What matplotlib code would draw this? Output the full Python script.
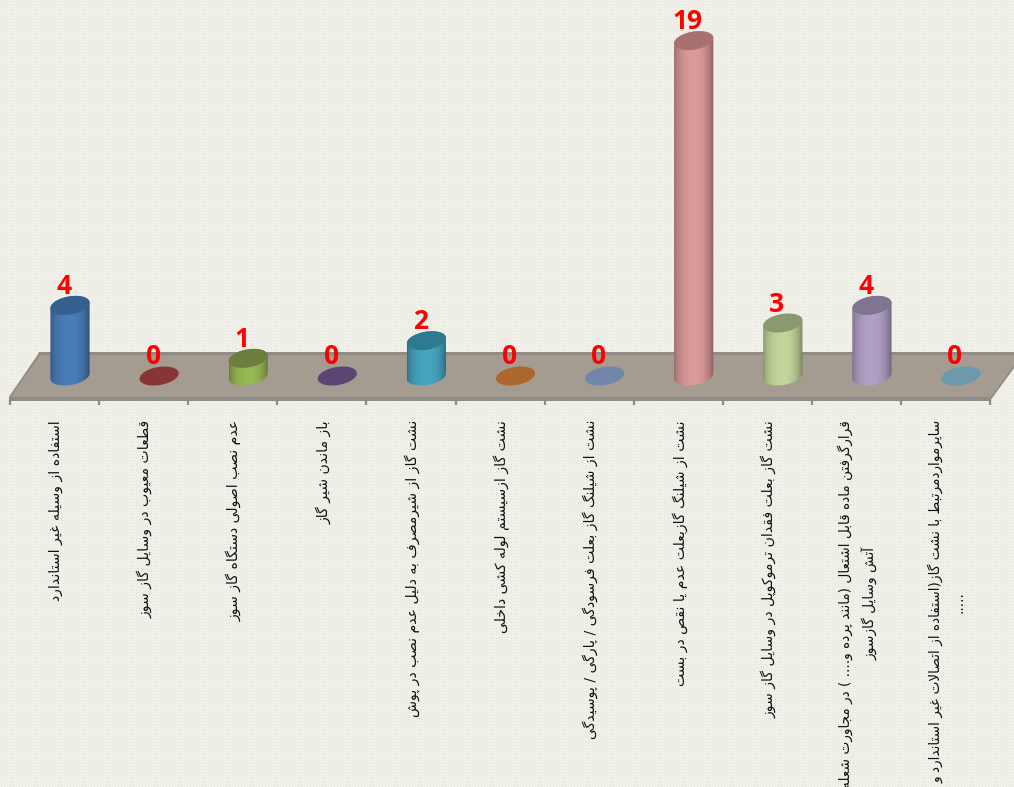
import numpy as np
import matplotlib
matplotlib.use("Agg")
import matplotlib.pyplot as plt
from matplotlib.patches import Polygon

# ---------- data ----------
categories = [
    "استفاده از وسیله غیر استاندارد",
    "قطعات معیوب در وسایل گاز سوز",
    "عدم نصب اصولی دستگاه گاز سوز",
    "باز ماندن شیر گاز",
    "نشت گاز از شیرمصرف به دلیل عدم نصب در پوش",
    "نشت گاز ازسیستم لوله کشی داخلی",
    "نشت از شیلنگ گاز بعلت فرسودگی / پارگی / پوسیدگی",
    "نشت از شیلنگ گازبعلت عدم یا نقص در بست",
    "نشت گاز بعلت فقدان ترموکوپل در وسایل گاز سوز",
    "قرارگرفتن ماده قابل اشتعال (مانند پرده و.... ) در مجاورت شعله\nآتش وسایل گازسوز",
    "سایرمواردمرتبط با نشت گاز(استفاده از اتصالات غیر استاندارد و\n.....",
]
values = [4, 0, 1, 0, 2, 0, 0, 19, 3, 4, 0]
body_colors = ["#4A7EBB", "#8B3A3A", "#98B954", "#5C4776", "#46A5C0", "#B9682C",
               "#7F93B8", "#DC9A9A", "#C3D69B", "#B2A1C7", "#6F9CAD"]
top_colors = ["#355F8D", "#883634", "#6A7F3C", "#5A4573", "#2F7A90", "#AC672F",
              "#7186A8", "#A97070", "#8A9A70", "#807591", "#6C9AAB"]

# ---------- Persian shaping (matplotlib has no bidi / joining support) ----------
def _run(start):
    return (start, start + 1, start + 2, start + 3)

FORMS = {
    "ب": _run(0xFE8F), "پ": _run(0xFB56), "ت": _run(0xFE95), "ث": _run(0xFE99),
    "ج": _run(0xFE9D), "چ": _run(0xFB7A), "ح": _run(0xFEA1), "خ": _run(0xFEA5),
    "س": _run(0xFEB1), "ش": _run(0xFEB5), "ص": _run(0xFEB9), "ض": _run(0xFEBD),
    "ط": _run(0xFEC1), "ظ": _run(0xFEC5), "ع": _run(0xFEC9), "غ": _run(0xFECD),
    "ف": _run(0xFED1), "ق": _run(0xFED5), "ک": _run(0xFB8E), "گ": _run(0xFB92),
    "ل": _run(0xFEDD), "م": _run(0xFEE1), "ن": _run(0xFEE5), "ه": _run(0xFEE9),
    "ی": _run(0xFBFC),
    "آ": (0xFE81, 0xFE82), "ا": (0xFE8D, 0xFE8E), "د": (0xFEA9, 0xFEAA),
    "ذ": (0xFEAB, 0xFEAC), "ر": (0xFEAD, 0xFEAE), "ز": (0xFEAF, 0xFEB0),
    "ژ": (0xFB8A, 0xFB8B), "و": (0xFEED, 0xFEEE),
}
MIRROR = {"(": ")", ")": "("}

def shape_line(text):
    out = []
    i = 0
    prev_joins = False
    while i < len(text):
        ch = text[i]
        if ch not in FORMS:
            out.append(MIRROR.get(ch, ch))
            prev_joins = False
            i += 1
            continue
        if ch == "ل" and i + 1 < len(text) and text[i + 1] == "ا":
            out.append(chr(0xFEFC if prev_joins else 0xFEFB))
            prev_joins = False
            i += 2
            continue
        f = FORMS[ch]
        dual = len(f) == 4
        nxt = text[i + 1] if i + 1 < len(text) else ""
        next_joins = dual and nxt in FORMS
        if prev_joins and next_joins:
            out.append(chr(f[3]))
        elif prev_joins:
            out.append(chr(f[1]))
        elif next_joins:
            out.append(chr(f[2]))
        else:
            out.append(chr(f[0]))
        prev_joins = dual
        i += 1
    return "".join(reversed(out))

def shape(text):
    return "\n".join(shape_line(t) for t in text.split("\n"))

# ---------- figure ----------
W, H = 1014, 787
fig = plt.figure(figsize=(W / 100, H / 100), dpi=100)

# page layer in pixel coordinates
bg = fig.add_axes([0, 0, 1, 1])
bg.set_xlim(0, W)
bg.set_ylim(H, 0)
bg.axis("off")

tile = np.array([
    [0, 1, 0, 0, 1, 0],
    [1, 0, 1, 1, 0, 1],
    [0, 1, 0, 0, 1, 0],
    [0, 1, 0, 0, 1, 0],
    [1, 0, 1, 1, 0, 1],
    [0, 1, 0, 0, 1, 0],
], dtype=float)
tex = np.tile(tile, (H // 6 + 1, W // 6 + 1))[:H, :W]
c0, c1 = np.array([0xF3, 0xF2, 0xEC]) / 255, np.array([0xEA, 0xE9, 0xDF]) / 255
bg.imshow(c0 + tex[..., None] * (c1 - c0), extent=(0, W, H, 0), aspect="auto",
          interpolation="nearest", zorder=0)

# floor
bg.add_patch(Polygon([(39, 353), (1022, 353), (990, 397), (9, 397)],
                     closed=True, fc="#A49C90", ec="none", zorder=1))
bg.add_patch(Polygon([(39, 352), (1022, 352), (1021, 355), (38, 355)],
                     closed=True, fc="#8F8C85", ec="none", zorder=1.1))
bg.add_patch(Polygon([(9, 397), (990, 397), (990, 401), (9, 401)],
                     closed=True, fc="#8E8C88", ec="none", zorder=1.1))
bg.add_patch(Polygon([(39, 353), (9, 397), (9, 399), (41, 354)],
                     closed=True, fc="#8F8C85", ec="none", zorder=1.1))
bg.add_patch(Polygon([(1022, 353), (990, 397), (990, 401), (1022, 357)],
                     closed=True, fc="#8F8C85", ec="none", zorder=1.1))
TICK_X0, STEP = 10, 89.1
for k in range(len(values) + 1):
    x = TICK_X0 + STEP * k
    bg.plot([x, x], [400, 405], color="#8A8A86", lw=1.6, solid_capstyle="butt", zorder=1.2)

# category labels
for k, lab in enumerate(categories):
    two = "\n" in lab
    bg.text(55 + STEP * k + (1 if not two else 1.0), 420, shape(lab), rotation=90,
            ha="center", va="top", ma="center", color="#111111",
            fontsize=9.8 if two else 10.1, family="DejaVu Sans",
            linespacing=1.7, zorder=2)

# chart layer: x = category index, y = value
PX_X0, PX_Y0, PX_PER_UNIT = 70.0, 376.0, 17.65
ax = fig.add_axes([0, 0, 1, 1], facecolor="none")
ax.set_xlim(-PX_X0 / STEP, (W - PX_X0) / STEP)
ax.set_ylim(-(H - PX_Y0) / PX_PER_UNIT, PX_Y0 / PX_PER_UNIT)
ax.axis("off")

A, B, TILT = 19.8, 9.0, np.radians(10)
t = np.linspace(0, 2 * np.pi, 181)
ex_px = A * np.cos(t) * np.cos(TILT) - B * np.sin(t) * np.sin(TILT)
ey_px = A * np.cos(t) * np.sin(TILT) + B * np.sin(t) * np.cos(TILT)
ex, ey = ex_px / STEP, ey_px / PX_PER_UNIT
half_w = ex.max()


def shaded(color, n=64):
    rgb = np.array(matplotlib.colors.to_rgb(color))
    u = np.linspace(0, 1, n)
    f = 0.66 + 0.34 * np.sin(np.pi * u) ** 0.5
    f = np.where(u > 0.5, f - 0.12 * ((u - 0.5) * 2) ** 3, f)
    return np.clip(rgb[None, None, :] * f[None, :, None], 0, 1)


for i, (v, cb, ct) in enumerate(zip(values, body_colors, top_colors)):
    top_x, top_y = i + ex, v + ey
    if v > 0:
        bx, by = i + ex, 0 + ey
        # silhouette: convex outline of the two end ellipses
        lo = np.argmin(ex)
        hi = np.argmax(ex)
        order = np.roll(np.arange(len(t) - 1), -hi)
        arc_top = order[: ((lo - hi) % (len(t) - 1)) + 1]
        arc_bot = order[((lo - hi) % (len(t) - 1)):]
        sil = np.vstack([
            np.column_stack([top_x[arc_top], top_y[arc_top]]),
            np.column_stack([bx[arc_bot], by[arc_bot]]),
        ])
        im = ax.imshow(shaded(cb), extent=(i - half_w, i + half_w, -2, v + 2),
                       aspect="auto", interpolation="bilinear", zorder=3 + i * 0.01)
        poly = Polygon(sil, closed=True, fc="none", ec="none", transform=ax.transData)
        ax.add_patch(poly)
        im.set_clip_path(poly)
    ax.fill(top_x, top_y, color=ct, lw=0, zorder=3.5 + i * 0.01)
    ax.annotate(str(v), (i, v), xytext=(-4.3, 13.7), textcoords="offset points",
                ha="center", va="center", color="#FF0000", fontsize=19,
                fontweight="bold", family="Open Sans", zorder=5)

# keep limits after imshow
ax.set_xlim(-PX_X0 / STEP, (W - PX_X0) / STEP)
ax.set_ylim(-(H - PX_Y0) / PX_PER_UNIT, PX_Y0 / PX_PER_UNIT)
ax.set_aspect("auto")

fig.savefig("out.png", dpi=100)
